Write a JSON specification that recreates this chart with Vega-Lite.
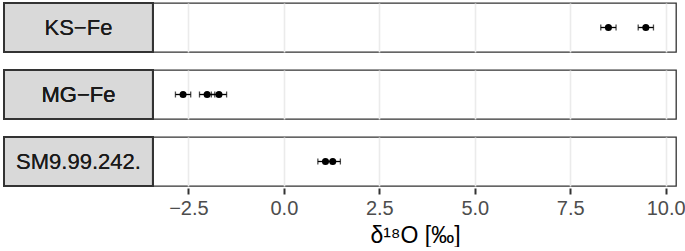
{
  "$schema": "https://vega.github.io/schema/vega-lite/v6.json",
  "padding": {"left": 2, "top": 1, "right": 0, "bottom": 0},
  "background": "white",
  "data": {"values": [
    {"sample": "KS−Fe", "d18O": 8.50, "lo": 8.30, "hi": 8.70},
    {"sample": "KS−Fe", "d18O": 9.48, "lo": 9.28, "hi": 9.68},
    {"sample": "MG−Fe", "d18O": -2.64, "lo": -2.84, "hi": -2.44},
    {"sample": "MG−Fe", "d18O": -2.01, "lo": -2.21, "hi": -1.81},
    {"sample": "MG−Fe", "d18O": -1.70, "lo": -1.90, "hi": -1.50},
    {"sample": "SM9.99.242.", "d18O": 1.09, "lo": 0.89, "hi": 1.29},
    {"sample": "SM9.99.242.", "d18O": 1.28, "lo": 1.08, "hi": 1.48}
  ]},
  "facet": {"row": {"field": "sample", "type": "nominal", "header": {"title": null, "labels": false}}},
  "spacing": {"row": 14},
  "spec": {
    "width": 672,
    "height": 49,
    "layer": [
      {
        "mark": {"type": "errorbar", "ticks": {"size": 6, "thickness": 1.3, "color": "black"}, "rule": {"strokeWidth": 1.3, "color": "black"}},
        "encoding": {
          "x": {"field": "lo", "type": "quantitative", "scale": {"domain": [-7.33, 10.27], "nice": false, "zero": false},
            "axis": {"values": [-2.5, 0, 2.5, 5, 7.5, 10], "format": ".1f", "title": "δ¹⁸O [‰]", "titleX": 411, "titleAnchor": "start", "titleAlign": "center"}},
          "x2": {"field": "hi"},
          "y": {"datum": 0, "type": "quantitative", "scale": {"domain": [-1, 1], "nice": false}, "axis": null}
        }
      },
      {
        "mark": {"type": "point", "filled": true, "color": "black", "size": 50, "opacity": 1},
        "encoding": {
          "x": {"field": "d18O", "type": "quantitative"},
          "y": {"datum": 0, "type": "quantitative"}
        }
      },
      {
        "mark": {"type": "rect", "fill": "#D9D9D9", "stroke": "#333333", "strokeWidth": 2},
        "encoding": {
          "x": {"datum": -7.33, "type": "quantitative"},
          "x2": {"datum": -3.43},
          "y": {"datum": -1, "type": "quantitative"},
          "y2": {"datum": 1}
        }
      },
      {
        "mark": {"type": "text", "font": "Liberation Sans", "fontSize": 22, "color": "#1A1A1A", "align": "center", "baseline": "middle"},
        "encoding": {
          "x": {"datum": -5.38, "type": "quantitative"},
          "y": {"datum": 0, "type": "quantitative"},
          "text": {"field": "sample"}
        }
      }
    ]
  },
  "config": {
    "view": {"stroke": "#333333", "strokeWidth": 1.3, "fill": "white"},
    "axis": {
      "domain": false,
      "grid": true,
      "gridColor": "#EBEBEB",
      "gridWidth": 1.6,
      "tickColor": "#333333",
      "tickWidth": 2,
      "tickSize": 6,
      "labelFont": "Liberation Sans",
      "labelFontSize": 20,
      "labelColor": "#4D4D4D",
      "labelPadding": 4,
      "titleFont": "Liberation Sans",
      "titleFontSize": 23,
      "titleFontWeight": "normal",
      "titleColor": "black",
      "titlePadding": 6
    }
  }
}
